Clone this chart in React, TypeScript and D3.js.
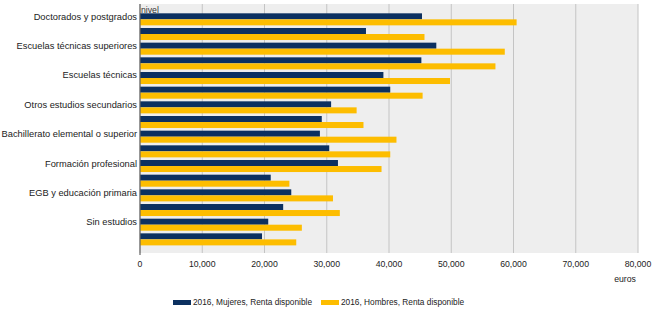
import React from "react";
import * as d3 from "d3";

const rowLabels: (string | null)[] = [
  "Doctorados y postgrados", null,
  "Escuelas técnicas superiores", null,
  "Escuelas técnicas", null,
  "Otros estudios secundarios", null,
  "Bachillerato elemental o superior", null,
  "Formación profesional", null,
  "EGB y educación primaria", null,
  "Sin estudios", null,
];
const mujeres = [45300, 36300, 47600, 45200, 39100, 40200, 30700, 29200, 28900, 30400, 31800, 21000, 24300, 23000, 20600, 19600];
const hombres = [60500, 45700, 58600, 57100, 49800, 45400, 34800, 35900, 41200, 40200, 38800, 24000, 31000, 32100, 26000, 25100];
const seriesNames = ["2016, Mujeres, Renta disponible", "2016, Hombres, Renta disponible"];
const xTicks = [0, 10000, 20000, 30000, 40000, 50000, 60000, 70000, 80000];

const W = 672, H = 321;
const NAVY = "#0c3060";
const YELLOW = "#fdbd00";
const FONT = "'Liberation Sans', Arial, sans-serif";

export default function App() {
  const left = 140, right = 638, top = 4, bottom = 253;
  const x = d3.scaleLinear().domain([0, 80000]).range([left, right]);
  const rows = d3.range(rowLabels.length).map(String);
  const y = d3.scaleBand<string>().domain(rows).range([12, 246.7]).paddingInner(0.18).paddingOuter(0.09);
  const inner = d3.scaleBand<string>().domain(["m", "h"]).range([0, y.bandwidth()]);
  const fmt = d3.format(",");

  return (
    <svg width={W} height={H} style={{ position: "absolute", left: 0, top: 0, background: "#fff" }} fontFamily={FONT}>
      <rect x={left} y={top} width={right - left} height={bottom - top} fill="#eeeeee" />
      {xTicks.map((t) => (
        <line key={t} x1={x(t)} x2={x(t)} y1={top} y2={bottom} stroke="#c4c4c4" strokeWidth={1} />
      ))}
      <text x={left + 1} y={13} fontSize={8.7} fill="#333">nivel</text>
      {rows.map((r, i) => (
        <g key={r} transform={`translate(0,${y(r)})`}>
          <rect x={x(0)} y={inner("m")} width={x(mujeres[i]) - x(0)} height={inner.bandwidth()} fill={NAVY} />
          <rect x={x(0)} y={inner("h")} width={x(hombres[i]) - x(0)} height={inner.bandwidth()} fill={YELLOW} />
        </g>
      ))}
      <line x1={left} x2={left} y1={top} y2={bottom + 2} stroke="#666" strokeWidth={1.2} />
      {rows.map((r, i) =>
        rowLabels[i] ? (
          <text key={"l" + r} x={137} y={(y(r) as number) + 6.5} fontSize={9.3} textAnchor="end" fill="#222">
            {rowLabels[i]}
          </text>
        ) : null
      )}
      {xTicks.map((t) => (
        <text key={"t" + t} x={x(t)} y={267} fontSize={8.7} textAnchor="middle" fill="#222">
          {fmt(t)}
        </text>
      ))}
      <text x={625} y={282} fontSize={8.7} textAnchor="middle" fill="#222">euros</text>
      <g>
        <rect x={173} y={300} width={18} height={5} fill={NAVY} />
        <text x={193} y={305} fontSize={8.3} fill="#222">{seriesNames[0]}</text>
        <rect x={321} y={300} width={18} height={5} fill={YELLOW} />
        <text x={341} y={305} fontSize={8.3} fill="#222">{seriesNames[1]}</text>
      </g>
    </svg>
  );
}
